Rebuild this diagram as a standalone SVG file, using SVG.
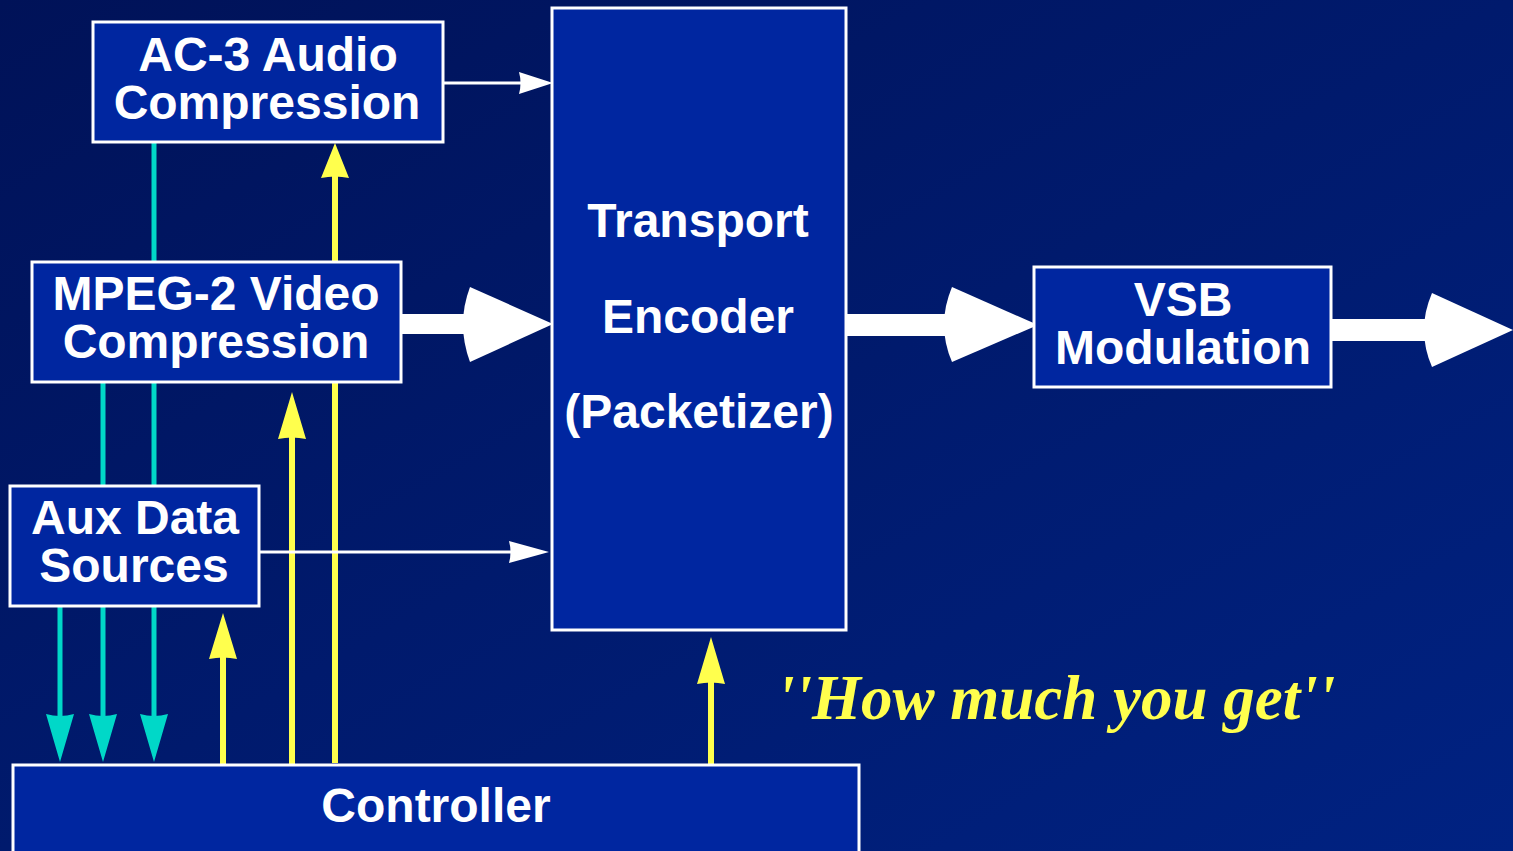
<svg xmlns="http://www.w3.org/2000/svg" width="1513" height="851" viewBox="0 0 1513 851">
<defs>
<linearGradient id="bg" x1="0" y1="0" x2="1" y2="1">
<stop offset="0" stop-color="#001258"/>
<stop offset="1" stop-color="#002282"/>
</linearGradient>
<style>
.box{fill:#0026a0;stroke:#ffffff;stroke-width:3}
.lbl{font-family:"Liberation Sans",Arial,sans-serif;font-weight:bold;font-size:48px;fill:#ffffff;text-anchor:middle}
.cy{stroke:#00d8c8;stroke-width:5;fill:none}
.cyh{fill:#00d8c8}
.ye{stroke:#ffff4d;stroke-width:6;fill:none}
.yeh{fill:#ffff4d}
.wl{stroke:#ffffff;stroke-width:3;fill:none}
.wh{fill:#ffffff}
.quote{font-family:"Liberation Serif","Times New Roman",serif;font-weight:bold;font-style:italic;font-size:63px;fill:#ffff4d}
</style>
</defs>
<rect x="0" y="0" width="1513" height="851" fill="url(#bg)"/>

<g id="connectors">
<line class="cy" x1="154" y1="142" x2="154" y2="717"/>
<line class="cy" x1="103" y1="382" x2="103" y2="717"/>
<line class="cy" x1="60" y1="606" x2="60" y2="717"/>
<path class="cyh" d="M46,714 L60,762 L74,714 Q60,718 46,714 Z"/>
<path class="cyh" d="M89,714 L103,762 L117,714 Q103,718 89,714 Z"/>
<path class="cyh" d="M140,714 L154,762 L168,714 Q154,718 140,714 Z"/>
<line class="ye" x1="335" y1="175" x2="335" y2="763"/>
<path class="yeh" d="M321,178 L335,143 L349,178 Q335,175 321,178 Z"/>
<line class="ye" x1="292" y1="436" x2="292" y2="765"/>
<path class="yeh" d="M278,439 L292,392 L306,439 Q292,436 278,439 Z"/>
<line class="ye" x1="223" y1="656" x2="223" y2="765"/>
<path class="yeh" d="M209,659 L223,613 L237,659 Q223,656 209,659 Z"/>
<line class="ye" x1="711" y1="681" x2="711" y2="765"/>
<path class="yeh" d="M697,684 L711,637 L725,684 Q711,681 697,684 Z"/>
<line class="wl" x1="443" y1="83" x2="524" y2="83"/>
<path class="wh" d="M519,72 L553,83 L519,94 Q522,83 519,72 Z"/>
<line class="wl" x1="259" y1="552" x2="514" y2="552"/>
<path class="wh" d="M509,541 L549,552 L509,563 Q512,552 509,541 Z"/>
<rect class="wh" x="402" y="314" width="70" height="20"/>
<path class="wh" d="M470,287 L553,324 L470,362 Q456,324 470,287 Z"/>
<rect class="wh" x="846" y="314" width="106" height="22"/>
<path class="wh" d="M952,287 L1038,325 L952,362 Q936,325 952,287 Z"/>
<rect class="wh" x="1328" y="319" width="104" height="22"/>
<path class="wh" d="M1432,293 L1513,330 L1432,367 Q1416,330 1432,293 Z"/>
</g>

<g id="ac3">
<rect class="box" x="93" y="22" width="350" height="120"/>
<text class="lbl" x="268" y="71">AC-3 Audio</text>
<text class="lbl" x="267" y="119">Compression</text>
</g>

<g id="mpeg2">
<rect class="box" x="32" y="262" width="369" height="120"/>
<text class="lbl" x="216" y="310">MPEG-2 Video</text>
<text class="lbl" x="216" y="358">Compression</text>
</g>

<g id="aux">
<rect class="box" x="10" y="486" width="249" height="120"/>
<text class="lbl" x="135" y="534">Aux Data</text>
<text class="lbl" x="134" y="582">Sources</text>
</g>

<g id="transport">
<rect class="box" x="552" y="8" width="294" height="622"/>
<text class="lbl" x="698" y="237">Transport</text>
<text class="lbl" x="698" y="333">Encoder</text>
<text class="lbl" x="699" y="428">(Packetizer)</text>
</g>

<g id="vsb">
<rect class="box" x="1034" y="267" width="297" height="120"/>
<text class="lbl" x="1183" y="316">VSB</text>
<text class="lbl" x="1183" y="364">Modulation</text>
</g>

<g id="controller">
<rect class="box" x="13" y="765" width="846" height="100"/>
<text class="lbl" x="436" y="822">Controller</text>
</g>

<text class="quote" x="777" y="719">''How much you get''</text>
</svg>
